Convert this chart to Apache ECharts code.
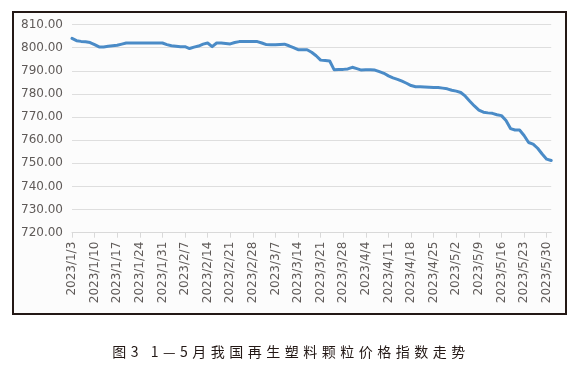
<!DOCTYPE html>
<html>
<head>
<meta charset="utf-8">
<script src="https://cdn.jsdelivr.net/npm/echarts@6/dist/echarts.min.js"></script>
<style>
  html, body { margin: 0; padding: 0; background: #fff; }
  #chart { width: 582px; height: 378px; position: absolute; left: 0; top: 0; }
  #caption {
    position: absolute; left: 0; width: 582px; top: 341px;
    text-align: center; font-family: 'Noto Sans CJK SC', sans-serif;
    font-size: 14px; line-height: 20px; letter-spacing: 4.5px; color: #231815;
  }
</style>
</head>
<body>
<div id="chart"></div>
<div id="caption">图3 1—5月我国再生塑料颗粒价格指数走势</div>
<script>
// 工作日日期 2023/1/3 - 2023/5/31
let dates = [];
let d = new Date(Date.UTC(2023, 0, 3));
let end = new Date(Date.UTC(2023, 4, 31));
while (d <= end) {
    let w = d.getUTCDay();
    if (w !== 0 && w !== 6) {
        dates.push(d.getUTCFullYear() + '/' + (d.getUTCMonth() + 1) + '/' + d.getUTCDate());
    }
    d = new Date(d.getTime() + 86400000);
}

// 价格指数
let priceIndex = [
    804.0, 803.0, 802.7, 802.5, 802.2, 801.3, 800.3, 800.3, 800.6, 800.8,
    801.0, 801.5, 802.0, 802.0, 802.0, 802.0, 802.0, 802.0, 802.0, 802.0,
    802.0, 801.3, 800.8, 800.6, 800.4, 800.4, 799.6, 800.2, 800.7, 801.5,
    802.0, 800.4, 802.0, 802.0, 801.8, 801.6, 802.2, 802.6, 802.6, 802.6,
    802.6, 802.6, 802.0, 801.3, 801.2, 801.2, 801.4, 801.5, 800.8, 800.0,
    799.1, 799.1, 799.1, 798.0, 796.5, 794.6, 794.4, 794.2, 790.4, 790.5,
    790.6, 790.8, 791.5, 790.9, 790.3, 790.4, 790.4, 790.3, 789.6, 788.9,
    787.8, 786.9, 786.3, 785.5, 784.6, 783.6, 783.1, 783.1, 783.0, 782.9,
    782.8, 782.8, 782.5, 782.2, 781.6, 781.2, 780.6, 779.0, 776.8, 774.8,
    773.0, 772.1, 771.8, 771.6, 771.0, 770.6, 768.5, 765.0, 764.4, 764.4,
    762.0, 759.0, 758.3, 756.5, 754.0, 751.8, 751.2
];

let yMin = 720, yMax = 810, yStep = 10;

let myChart = echarts.init(document.getElementById('chart'));

let option = {
    backgroundColor: '#fff',
    animation: false,
    graphic: [{
        type: 'rect',
        shape: { x: 13, y: 12, width: 553, height: 302 },
        style: { fill: '#fcfcfc', stroke: '#231815', lineWidth: 2 },
        z: -10
    }],
    grid: {
        left: 72,
        right: 30.8,
        top: 24.5,
        bottom: 145.3
    },
    xAxis: {
        type: 'category',
        boundaryGap: false,
        data: dates,
        axisLine: { lineStyle: { color: '#d9d9d9', width: 1 } },
        axisTick: { interval: 4, length: 5, lineStyle: { color: '#d9d9d9' } },
        axisLabel: {
            interval: 4,
            rotate: 90,
            margin: 9,
            fontFamily: 'DejaVu Sans',
            fontSize: 12,
            color: '#5f5a58'
        },
        splitLine: { show: false }
    },
    yAxis: {
        type: 'value',
        min: yMin,
        max: yMax,
        interval: yStep,
        axisLine: { show: false },
        axisTick: { show: false },
        axisLabel: {
            margin: 9,
            fontFamily: 'DejaVu Sans',
            fontSize: 12,
            color: '#5f5a58',
            formatter: v => v.toFixed(2)
        },
        splitLine: { lineStyle: { color: '#dedede', width: 1 } }
    },
    series: [{
        type: 'line',
        data: priceIndex,
        showSymbol: false,
        lineStyle: { color: '#4a8bc7', width: 3, join: 'round', cap: 'round' },
        itemStyle: { color: '#4a8bc7' }
    }]
};

myChart.setOption(option);
</script>
</body>
</html>
